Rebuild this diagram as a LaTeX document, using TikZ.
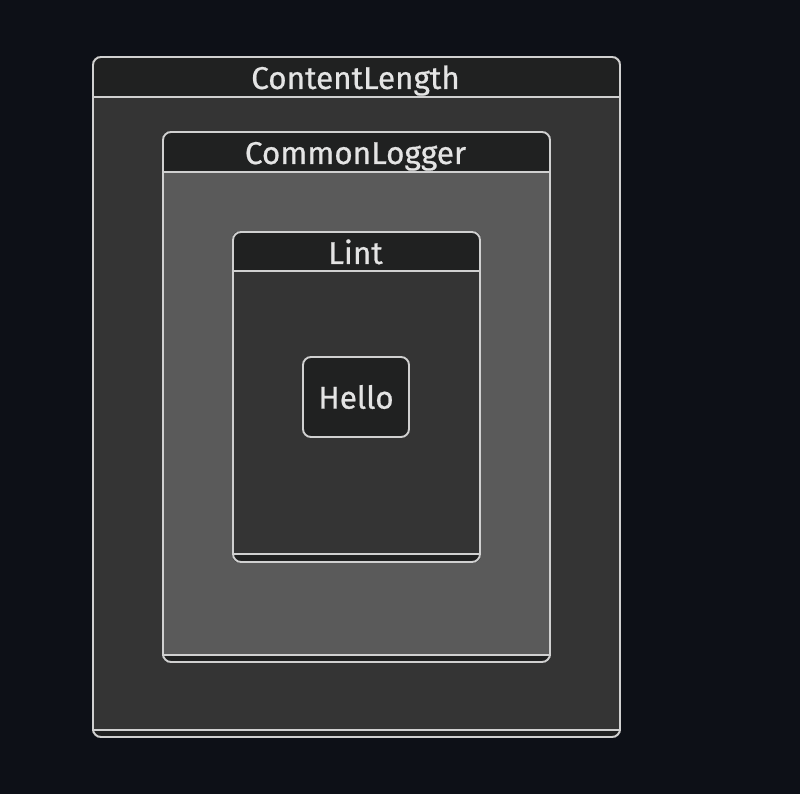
\documentclass[tikz,border=0pt]{standalone}
\usepackage{fontspec}
\setmainfont{Fira Sans}
\newfontfamily\tfont{Fira Sans}[FakeBold=0.7]
\definecolor{bg}{RGB}{13,16,23}
\definecolor{hdr}{RGB}{32,33,33}
\definecolor{bodyA}{RGB}{52,52,52}
\definecolor{bodyB}{RGB}{90,90,90}
\definecolor{edge}{RGB}{208,208,208}
\definecolor{txt}{RGB}{228,228,228}
\begin{document}
\begin{tikzpicture}[x=1pt,y=-1pt,
  box/.style={draw=edge,line width=1.9pt,rounded corners=8pt,inner sep=0pt},
  sep/.style={draw=edge,line width=1.9pt},
  ttl/.style={text=txt,font=\tfont\fontsize{31.5}{34}\selectfont,inner sep=0pt,anchor=base},
  band/.style={fill=hdr}]
\useasboundingbox[fill=bg] (0,0) rectangle (800,794);
% outer container
\node[box,fill=bodyA,minimum width=527pt,minimum height=680pt] (outer) at (356.5,397) {};
\fill[band] (outer.north west) ++(0,41) [rounded corners=8pt] -- (outer.north west) -- (outer.north east) [sharp corners] -- ++(0,41) -- cycle;
\fill[band] (outer.south west) ++(0,-8) [rounded corners=8pt] -- (outer.south west) -- (outer.south east) [sharp corners] -- ++(0,-8) -- cycle;
\node[box,minimum width=527pt,minimum height=680pt] at (outer.center) {};
\draw[sep] (outer.north west) ++(0,41) coordinate (oh1) -- (oh1 -| outer.east);
\draw[sep] (outer.south west) ++(0,-8) coordinate (ob1) -- (ob1 -| outer.east);
\node[ttl] (tOuter) at (355.5,89) {ContentLength};
% CommonLogger
\node[box,fill=bodyB,minimum width=387pt,minimum height=530pt] (cl) at (356.5,397) {};
\fill[band] (cl.north west) ++(0,41) [rounded corners=8pt] -- (cl.north west) -- (cl.north east) [sharp corners] -- ++(0,41) -- cycle;
\fill[band] (cl.south west) ++(0,-8) [rounded corners=8pt] -- (cl.south west) -- (cl.south east) [sharp corners] -- ++(0,-8) -- cycle;
\node[box,minimum width=387pt,minimum height=530pt] at (cl.center) {};
\draw[sep] (cl.north west) ++(0,41) coordinate (ch1) -- (ch1 -| cl.east);
\draw[sep] (cl.south west) ++(0,-8) coordinate (cb1) -- (cb1 -| cl.east);
\node[ttl] (tCl) at (355.5,164) {CommonLogger};
% Lint
\node[box,fill=bodyA,minimum width=247pt,minimum height=330pt] (lint) at (356.5,397) {};
\fill[band] (lint.north west) ++(0,40) [rounded corners=8pt] -- (lint.north west) -- (lint.north east) [sharp corners] -- ++(0,40) -- cycle;
\fill[band] (lint.south west) ++(0,-9) [rounded corners=8pt] -- (lint.south west) -- (lint.south east) [sharp corners] -- ++(0,-9) -- cycle;
\node[box,minimum width=247pt,minimum height=330pt] at (lint.center) {};
\draw[sep] (lint.north west) ++(0,40) coordinate (lh1) -- (lh1 -| lint.east);
\draw[sep] (lint.south west) ++(0,-9) coordinate (lb1) -- (lb1 -| lint.east);
\node[ttl] (tLint) at (355.5,264) {Lint};
% Hello
\node[box,fill=hdr,minimum width=106pt,minimum height=80pt,text=txt,font=\tfont\fontsize{31.5}{34}\selectfont] (hello) at (356,397) {Hello};
\end{tikzpicture}
\end{document}
